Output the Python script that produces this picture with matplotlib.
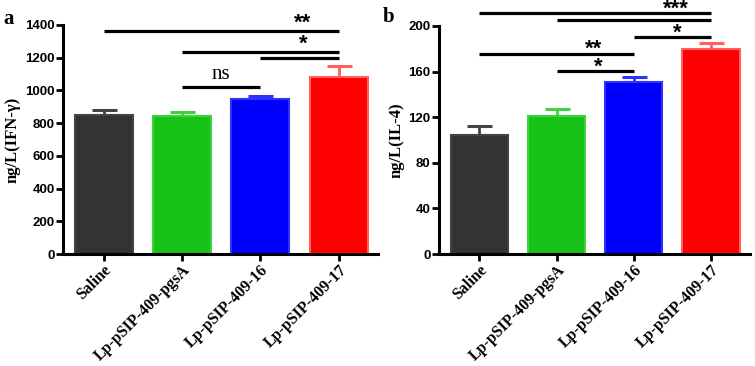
import matplotlib.pyplot as plt
import numpy as np

groups = ['Saline', 'Lp-pSIP-409-pgsA', 'Lp-pSIP-409-16', 'Lp-pSIP-409-17']
bar_colors = ['#333333', '#16c316', '#0000ff', '#ff0000']
edge_colors = ['#444444', '#40d040', '#3030ff', '#ff6060']

ifn_mean = [850, 843, 946, 1084]
ifn_err = [30, 23, 22, 65]
il4_mean = [104, 121, 151, 179.5]
il4_err = [8, 6, 4.5, 5.5]

# (from, to, line height, label, label x, label centre height)
ifn_sig = [(0, 3, 1365, '**', 2.54, 1425), (1, 3, 1237, '*', 2.55, 1300),
           (2, 3, 1196, '', 0, 0), (1, 2, 1023, 'ns', 1.5, 1095)]
il4_sig = [(0, 3, 211.7, '***', 2.55, 217), (1, 3, 205.3, '', 0, 0), (2, 3, 190, '*', 2.56, 196),
           (0, 2, 175.4, '**', 1.48, 182.5), (1, 2, 160.5, '*', 1.54, 166)]

SANS = 'Liberation Sans'
SERIF = 'Liberation Serif'

fig = plt.figure(figsize=(7.55, 3.66), dpi=100)
ax1 = fig.add_axes([0.0834, 0.306, 0.4173, 0.626])
ax2 = fig.add_axes([0.5815, 0.306, 0.4115, 0.623])


def draw(ax, means, errs, ymax, step, ylabel, sigs):
    x = np.arange(len(groups))
    ax.bar(x, means, width=0.74, color=bar_colors, edgecolor=edge_colors, linewidth=1.5, zorder=2)
    for i in range(len(groups)):
        ax.errorbar(x[i], means[i], yerr=[[0], [errs[i]]], fmt='none', ecolor=edge_colors[i],
                    elinewidth=2, capsize=9, capthick=2.2, zorder=1)
    ax.set_xlim(-0.52, 3.5)
    ax.set_ylim(0, ymax)
    ax.set_yticks(np.arange(0, ymax + 1, step))
    ax.set_xticks(x)
    ax.set_xticklabels(groups, rotation=45, ha='right', rotation_mode='anchor',
                       fontfamily=SERIF, fontweight='bold', fontsize=11.5)
    for lab in ax.get_yticklabels():
        lab.set_fontfamily(SANS)
        lab.set_fontweight('bold')
        lab.set_fontsize(9.5)
    ax.set_ylabel(ylabel, fontfamily=SERIF, fontweight='bold', fontsize=12, labelpad=3)
    for s in ['top', 'right']:
        ax.spines[s].set_visible(False)
    for s in ['left', 'bottom']:
        ax.spines[s].set_linewidth(2.2)
    ax.tick_params(width=2, length=5, direction='out', pad=1)
    for a, b, h, lab, tx, ty in sigs:
        ax.plot([a, b], [h, h], color='black', lw=2.3, clip_on=False, solid_capstyle='butt')
        if lab == 'ns':
            ax.text(tx, ty, lab, ha='center', va='center', fontfamily=SERIF, fontsize=15)
        elif lab:
            ax.annotate(lab, (tx, ty), xytext=(0, -6), textcoords='offset points',
                        ha='center', va='baseline', fontfamily=SANS, fontweight='bold',
                        fontsize=16, annotation_clip=False)


draw(ax1, ifn_mean, ifn_err, 1400, 200, 'ng/L(IFN-γ)', ifn_sig)
draw(ax2, il4_mean, il4_err, 200, 40, 'ng/L(IL-4)', il4_sig)

fig.text(3 / 755, 1 - 24 / 366, 'a', fontfamily=SERIF, fontweight='bold', fontsize=15, va='baseline')
fig.text(383 / 755, 1 - 22 / 366, 'b', fontfamily=SERIF, fontweight='bold', fontsize=15, va='baseline')

fig.savefig('out.png', dpi=100)
